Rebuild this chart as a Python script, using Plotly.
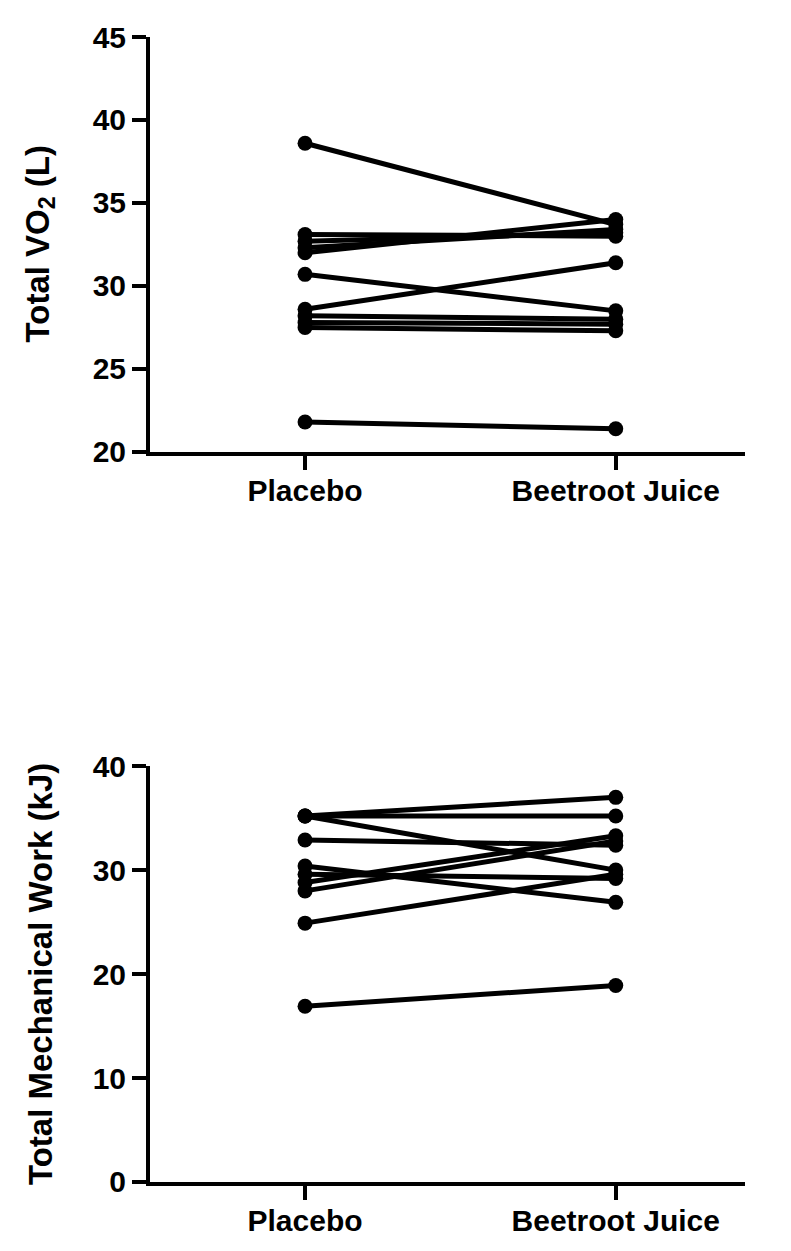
import plotly.graph_objects as go

conditions = ["Placebo", "Beetroot Juice"]

placebo_vo2 = [38.6, 33.1, 32.7, 32.3, 32.0, 30.7, 28.6, 28.2, 27.8, 27.5, 21.8]
beet_vo2 = [33.7, 33.0, 33.2, 33.4, 34.0, 28.5, 31.4, 28.0, 27.7, 27.3, 21.4]

placebo_work = [35.2, 35.2, 35.2, 32.9, 30.4, 29.6, 28.8, 28.0, 24.9, 16.9]
beet_work = [37.0, 35.2, 30.0, 32.4, 26.9, 29.2, 33.3, 32.8, 29.6, 18.9]

vo2_ticks = [20, 25, 30, 35, 40, 45]
work_ticks = [0, 10, 20, 30, 40]

FONT = "Liberation Sans, Arial, sans-serif"

fig = go.Figure()

def add_pairs(pl, bj, xa, ya):
    for a, b in zip(pl, bj):
        fig.add_trace(go.Scatter(
            x=[0, 1], y=[a, b], mode="lines+markers",
            line=dict(color="black", width=5),
            marker=dict(color="black", size=15),
            xaxis=xa, yaxis=ya, showlegend=False, hoverinfo="skip"))

add_pairs(placebo_vo2, beet_vo2, "x", "y")
add_pairs(placebo_work, beet_work, "x2", "y2")

axis_common = dict(showline=True, linecolor="black", linewidth=4,
                   ticks="outside", ticklen=14, tickwidth=4, tickcolor="black",
                   showgrid=False, zeroline=False,
                   tickfont=dict(family=FONT, size=30, color="black", weight="bold"))

xrange = [-0.499, 1.416]
fig.update_layout(
    width=783, height=1243,
    margin=dict(l=142, r=46, t=26, b=69),
    plot_bgcolor="white", paper_bgcolor="white",
    xaxis=dict(domain=[0, 1], anchor="y", range=xrange, tickvals=[0, 1],
               ticktext=conditions, **axis_common),
    yaxis=dict(domain=[0.6376, 1.0], anchor="x", range=[20, 45],
               tickvals=vo2_ticks, **axis_common),
    xaxis2=dict(domain=[0, 1], anchor="y2", range=xrange, tickvals=[0, 1],
                ticktext=conditions, **axis_common),
    yaxis2=dict(domain=[0.0, 0.3632], anchor="x2", range=[0, 40],
                tickvals=work_ticks, **axis_common),
)
try:
    fig.update_layout(xaxis_ticklabelstandoff=-5, xaxis2_ticklabelstandoff=-5)
except Exception:
    pass

title_font = dict(family=FONT, size=33, color="black", weight="bold")
fig.add_annotation(text="Total VO<sub>2</sub> (L)", xref="paper", yref="paper",
                   x=0, xshift=-110, y=(0.6376 + 1.0) / 2, textangle=-90,
                   showarrow=False, font=title_font, xanchor="center", yanchor="middle")
fig.add_annotation(text="Total Mechanical Work (kJ)", xref="paper", yref="paper",
                   x=0, xshift=-110, y=0.3632 / 2, textangle=-90,
                   showarrow=False, font=title_font, xanchor="center", yanchor="middle")

fig.write_html("out.html")
